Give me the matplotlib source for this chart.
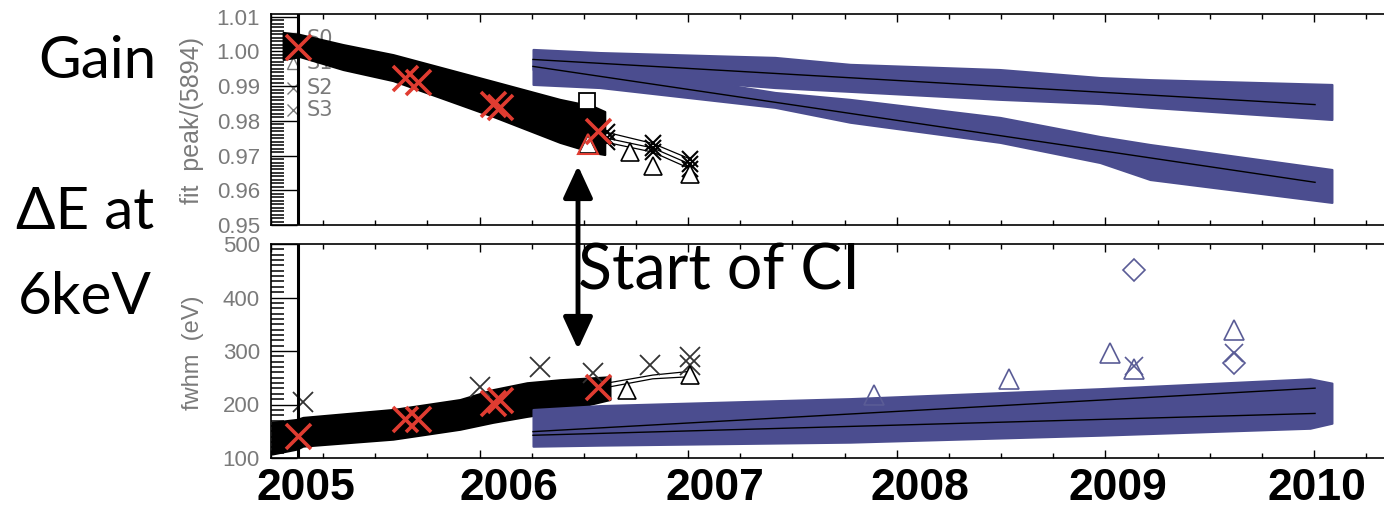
import matplotlib
matplotlib.use('Agg')
import matplotlib.pyplot as plt
from matplotlib.patches import FancyArrowPatch
from matplotlib.ticker import MultipleLocator, FormatStrFormatter

W, H = 1384, 508

# ---- gain panel ----
# pre-CI period (black band): time and upper/lower envelope of the points
pre_t = [2005.058, 2005.139, 2005.345, 2005.585, 2006.064, 2006.385, 2006.544, 2006.600]
pre_gain_hi = [1.0055, 1.0049, 1.0020, 0.9991, 0.9914, 0.9862, 0.9842, 0.9827]
pre_gain_lo = [0.9977, 0.9985, 0.9948, 0.9916, 0.9813, 0.9738, 0.9709, 0.9703]

# after CI (blue), two sensor groups
ci_t = [2006.256, 2006.577, 2007.416, 2007.776, 2008.495, 2008.974, 2009.214, 2010.086]
ci_gain_a_hi = [1.0006, 0.9997, 0.9983, 0.9963, 0.9948, 0.9925, 0.9919, 0.9905]
ci_gain_a_lo = [0.9948, 0.9934, 0.9896, 0.9885, 0.9862, 0.9850, 0.9839, 0.9804]
ci_gain_b_hi = [0.9977, 0.9963, 0.9882, 0.9862, 0.9810, 0.9755, 0.9732, 0.9660]
ci_gain_b_lo = [0.9905, 0.9896, 0.9839, 0.9796, 0.9738, 0.9680, 0.9631, 0.9565]

fit_t = [2006.256, 2010.005]
fit_gain_a = [0.9977, 0.9847]
fit_gain_b = [0.9957, 0.9623]

# calibration points (red X)
cal_t = [2005.129, 2005.642, 2005.705, 2006.064, 2006.098, 2006.568]
cal_gain = [1.0014, 0.9925, 0.9911, 0.9850, 0.9839, 0.9772]
cal_fwhm = [140.7, 172.0, 172.0, 203.7, 209.0, 233.0]

# last pre-CI points, joined by lines
tail_t = [2006.61, 2006.83, 2007.01]
tail_gain = [[0.9767, 0.9735, 0.9690], [0.9750, 0.9722, 0.9675], [0.9738, 0.9710, 0.9662]]
tail_tri_t = [2006.520, 2006.72, 2006.83, 2007.01]
tail_tri_gain = [0.9732, 0.9709, 0.9669, 0.9646]
tail_sq_t = [2006.515]
tail_sq_gain = [0.9856]

sensors = ['S0', 'S1', 'S2', 'S3']

# ---- fwhm panel ----
pre_t_fw = [2005.005, 2005.125, 2005.153, 2005.585, 2005.906, 2006.064, 2006.227, 2006.385, 2006.625]
pre_fwhm_hi = [166.7, 172.2, 175.9, 190.7, 209.3, 227.8, 240.7, 246.3, 251.9]
pre_fwhm_lo = [107.4, 116.7, 122.2, 135.2, 153.7, 166.7, 177.8, 187.0, 209.3]

ci_t_fw = [2006.256, 2006.577, 2007.776, 2008.974, 2009.981, 2010.086]
ci_fwhm_hi = [190.7, 198.0, 211.0, 229.6, 248.0, 240.0]
ci_fwhm_lo = [122.0, 124.0, 129.6, 142.6, 155.6, 165.0]

fit_fwhm_a = [149.3, 230.5]
fit_fwhm_b = [142.5, 183.3]

pre_x_t = [2005.153, 2006.002, 2006.290, 2006.544, 2006.817, 2007.009, 2007.009]
pre_x_fwhm = [204.0, 233.0, 270.0, 259.0, 274.0, 289.0, 274.0]
tail_fw = [[240.0, 255.0, 262.0], [232.0, 248.0, 252.0]]
tail_tri_t_fw = [2006.707, 2007.009]
tail_tri_fwhm = [228.0, 255.0]

out_dia_t = [2009.137, 2009.617]
out_dia_fwhm = [452.0, 278.0]
out_tri_t = [2009.022, 2009.617, 2008.538, 2007.891, 2009.137]
out_tri_fwhm = [296.0, 339.0, 248.0, 217.0, 266.0]
out_x_t = [2009.137, 2009.617]
out_x_fwhm = [272.0, 296.0]

years = ['2005', '2006', '2007', '2008', '2009', '2010']

BLUE = '#4b4d8f'
RED = '#e03c31'
GREY = '#7a7a7a'

fig = plt.figure(figsize=(W / 100, H / 100), dpi=100)
xl = (2005.0, 2005.0 + (1400 - 271) / 208.6)
launch = 2005.129

ax1 = fig.add_axes([271 / W, 1 - 225 / H, (1400 - 271) / W, 211 / H])
ax2 = fig.add_axes([271 / W, 1 - 458 / H, (1400 - 271) / W, 214 / H])

for ax in (ax1, ax2):
    ax.set_xlim(*xl)
    ax.xaxis.set_major_locator(MultipleLocator(1))
    ax.xaxis.set_minor_locator(MultipleLocator(0.25))
    ax.tick_params(axis='x', which='both', direction='in', top=True, bottom=True,
                   labelbottom=False, width=1)
    ax.tick_params(axis='x', which='major', length=6)
    ax.tick_params(axis='x', which='minor', length=3.5)
    ax.tick_params(axis='y', which='both', direction='in', left=True, right=False,
                   labelsize=16, labelcolor=GREY, pad=8)
    ax.tick_params(axis='y', which='major', length=19, width=1)
    ax.tick_params(axis='y', which='minor', length=9.4, width=1.1)
    for s in ax.spines.values():
        s.set_linewidth(1.2)
    ax.axvline(launch, color='black', lw=2.2, zorder=5)
    for lab in ax.get_yticklabels():
        lab.set_fontfamily('Liberation Sans')

# gain
ax1.set_ylim(0.95, 1.0108)
ax1.yaxis.set_major_locator(MultipleLocator(0.01))
ax1.yaxis.set_minor_locator(MultipleLocator(0.001))
ax1.yaxis.set_major_formatter(FormatStrFormatter('%.2f'))

legend_y = [1.0035, 0.9966, 0.9895, 0.9830]
legend_m = ['s', '^', 'x', 'x']
for name, yy, m in zip(sensors, legend_y, legend_m):
    ax1.plot([2005.105], [yy], marker=m, ms=9, mfc='none', mec=GREY, ls='none', zorder=1)
    ax1.text(2005.17, yy, name, fontsize=15, color=GREY, va='center', ha='left',
             family='DejaVu Sans', zorder=1)

ax1.fill_between(pre_t, pre_gain_lo, pre_gain_hi, color='black', lw=1.5, ec='black', zorder=2)
ax1.fill_between(ci_t, ci_gain_a_lo, ci_gain_a_hi, color=BLUE, lw=1.5, ec=BLUE, zorder=2)
ax1.fill_between(ci_t, ci_gain_b_lo, ci_gain_b_hi, color=BLUE, lw=1.5, ec=BLUE, zorder=2)
ax1.plot(fit_t, fit_gain_a, color='black', lw=1, zorder=3)
ax1.plot(fit_t, fit_gain_b, color='black', lw=1, zorder=3)
for g in tail_gain:
    ax1.plot(tail_t, g, color='black', lw=0.9, marker='x', ms=12, mew=1.5, zorder=3)
ax1.plot(tail_tri_t, tail_tri_gain, ls='none', marker='^', ms=13, mfc='white', mec='black',
         mew=1.2, zorder=3)
ax1.plot(tail_sq_t, tail_sq_gain, ls='none', marker='s', ms=12, mfc='white', mec='black',
         mew=1.3, zorder=3)
ax1.plot(cal_t, cal_gain, ls='none', marker='x', ms=18, mew=2.6, color=RED, zorder=6)
ax1.plot([2006.520], [0.9732], ls='none', marker='^', ms=14, mfc='none', mec=RED, mew=1.5, zorder=6)

# fwhm
ax2.set_ylim(100, 500)
ax2.yaxis.set_major_locator(MultipleLocator(100))
ax2.yaxis.set_minor_locator(MultipleLocator(10))
ax2.yaxis.set_major_formatter(FormatStrFormatter('%d'))

ax2.fill_between(pre_t_fw, pre_fwhm_lo, pre_fwhm_hi, color='black', lw=1.5, ec='black', zorder=2)
ax2.fill_between(ci_t_fw, ci_fwhm_lo, ci_fwhm_hi, color=BLUE, lw=1.5, ec=BLUE, zorder=2)
ax2.plot(fit_t, fit_fwhm_a, color='black', lw=1, zorder=3)
ax2.plot(fit_t, fit_fwhm_b, color='black', lw=1, zorder=3)
for f in tail_fw:
    ax2.plot(tail_t, f, color='black', lw=0.9, zorder=3)
ax2.plot(pre_x_t, pre_x_fwhm, ls='none', marker='x', ms=14, mew=1.3, color='#333333', zorder=3)
ax2.plot(tail_tri_t_fw, tail_tri_fwhm, ls='none', marker='^', ms=13, mfc='white', mec='black',
         mew=1.2, zorder=3)
ax2.plot(cal_t, cal_fwhm, ls='none', marker='x', ms=18, mew=2.6, color=RED, zorder=6)
ax2.plot(out_dia_t, out_dia_fwhm, ls='none', marker='D', ms=11, mfc='none', mec='#5a5c96',
         mew=1.2, zorder=3)
ax2.plot(out_tri_t, out_tri_fwhm, ls='none', marker='^', ms=15, mfc='none', mec='#5a5c96',
         mew=1.2, zorder=3)
ax2.plot(out_x_t, out_x_fwhm, ls='none', marker='x', ms=13, mew=1.2, color='#5a5c96', zorder=3)

# axis titles
fig.text(192 / W, 1 - 120 / H, 'fit  peak/(5894)', rotation=90, ha='center', va='center',
         fontsize=18, color=GREY, family='Liberation Sans')
fig.text(193 / W, 1 - 353 / H, 'fwhm  (eV)', rotation=90, ha='center', va='center',
         fontsize=17, color=GREY, family='Liberation Sans')

# slide annotations
fig.text(97 / W, 1 - 62 / H, 'Gain', ha='center', va='center', fontsize=42, family='Lato')
fig.text(85 / W, 1 - 213 / H, '\u0394E at', ha='center', va='center', fontsize=42, family='Lato')
fig.text(85 / W, 1 - 297 / H, '6keV', ha='center', va='center', fontsize=42, family='Lato')
fig.text(578 / W, 1 - 272 / H, 'Start of CI', ha='left', va='center', fontsize=45, family='Lato')

label_px = [306, 509, 715, 920, 1118, 1317]
for lab, px in zip(years, label_px):
    fig.text(px / W, 1 - 488 / H, lab, ha='center', va='center', fontsize=32,
             fontweight='bold', family='Liberation Sans')

arrow = FancyArrowPatch((578 / W, 1 - 352 / H), (578 / W, 1 - 163 / H),
                        transform=fig.transFigure,
                        arrowstyle='<|-|>,head_length=0.65,head_width=0.3',
                        mutation_scale=30, lw=3.5, color='black')
fig.add_artist(arrow)

fig.savefig('out.png', dpi=100)
